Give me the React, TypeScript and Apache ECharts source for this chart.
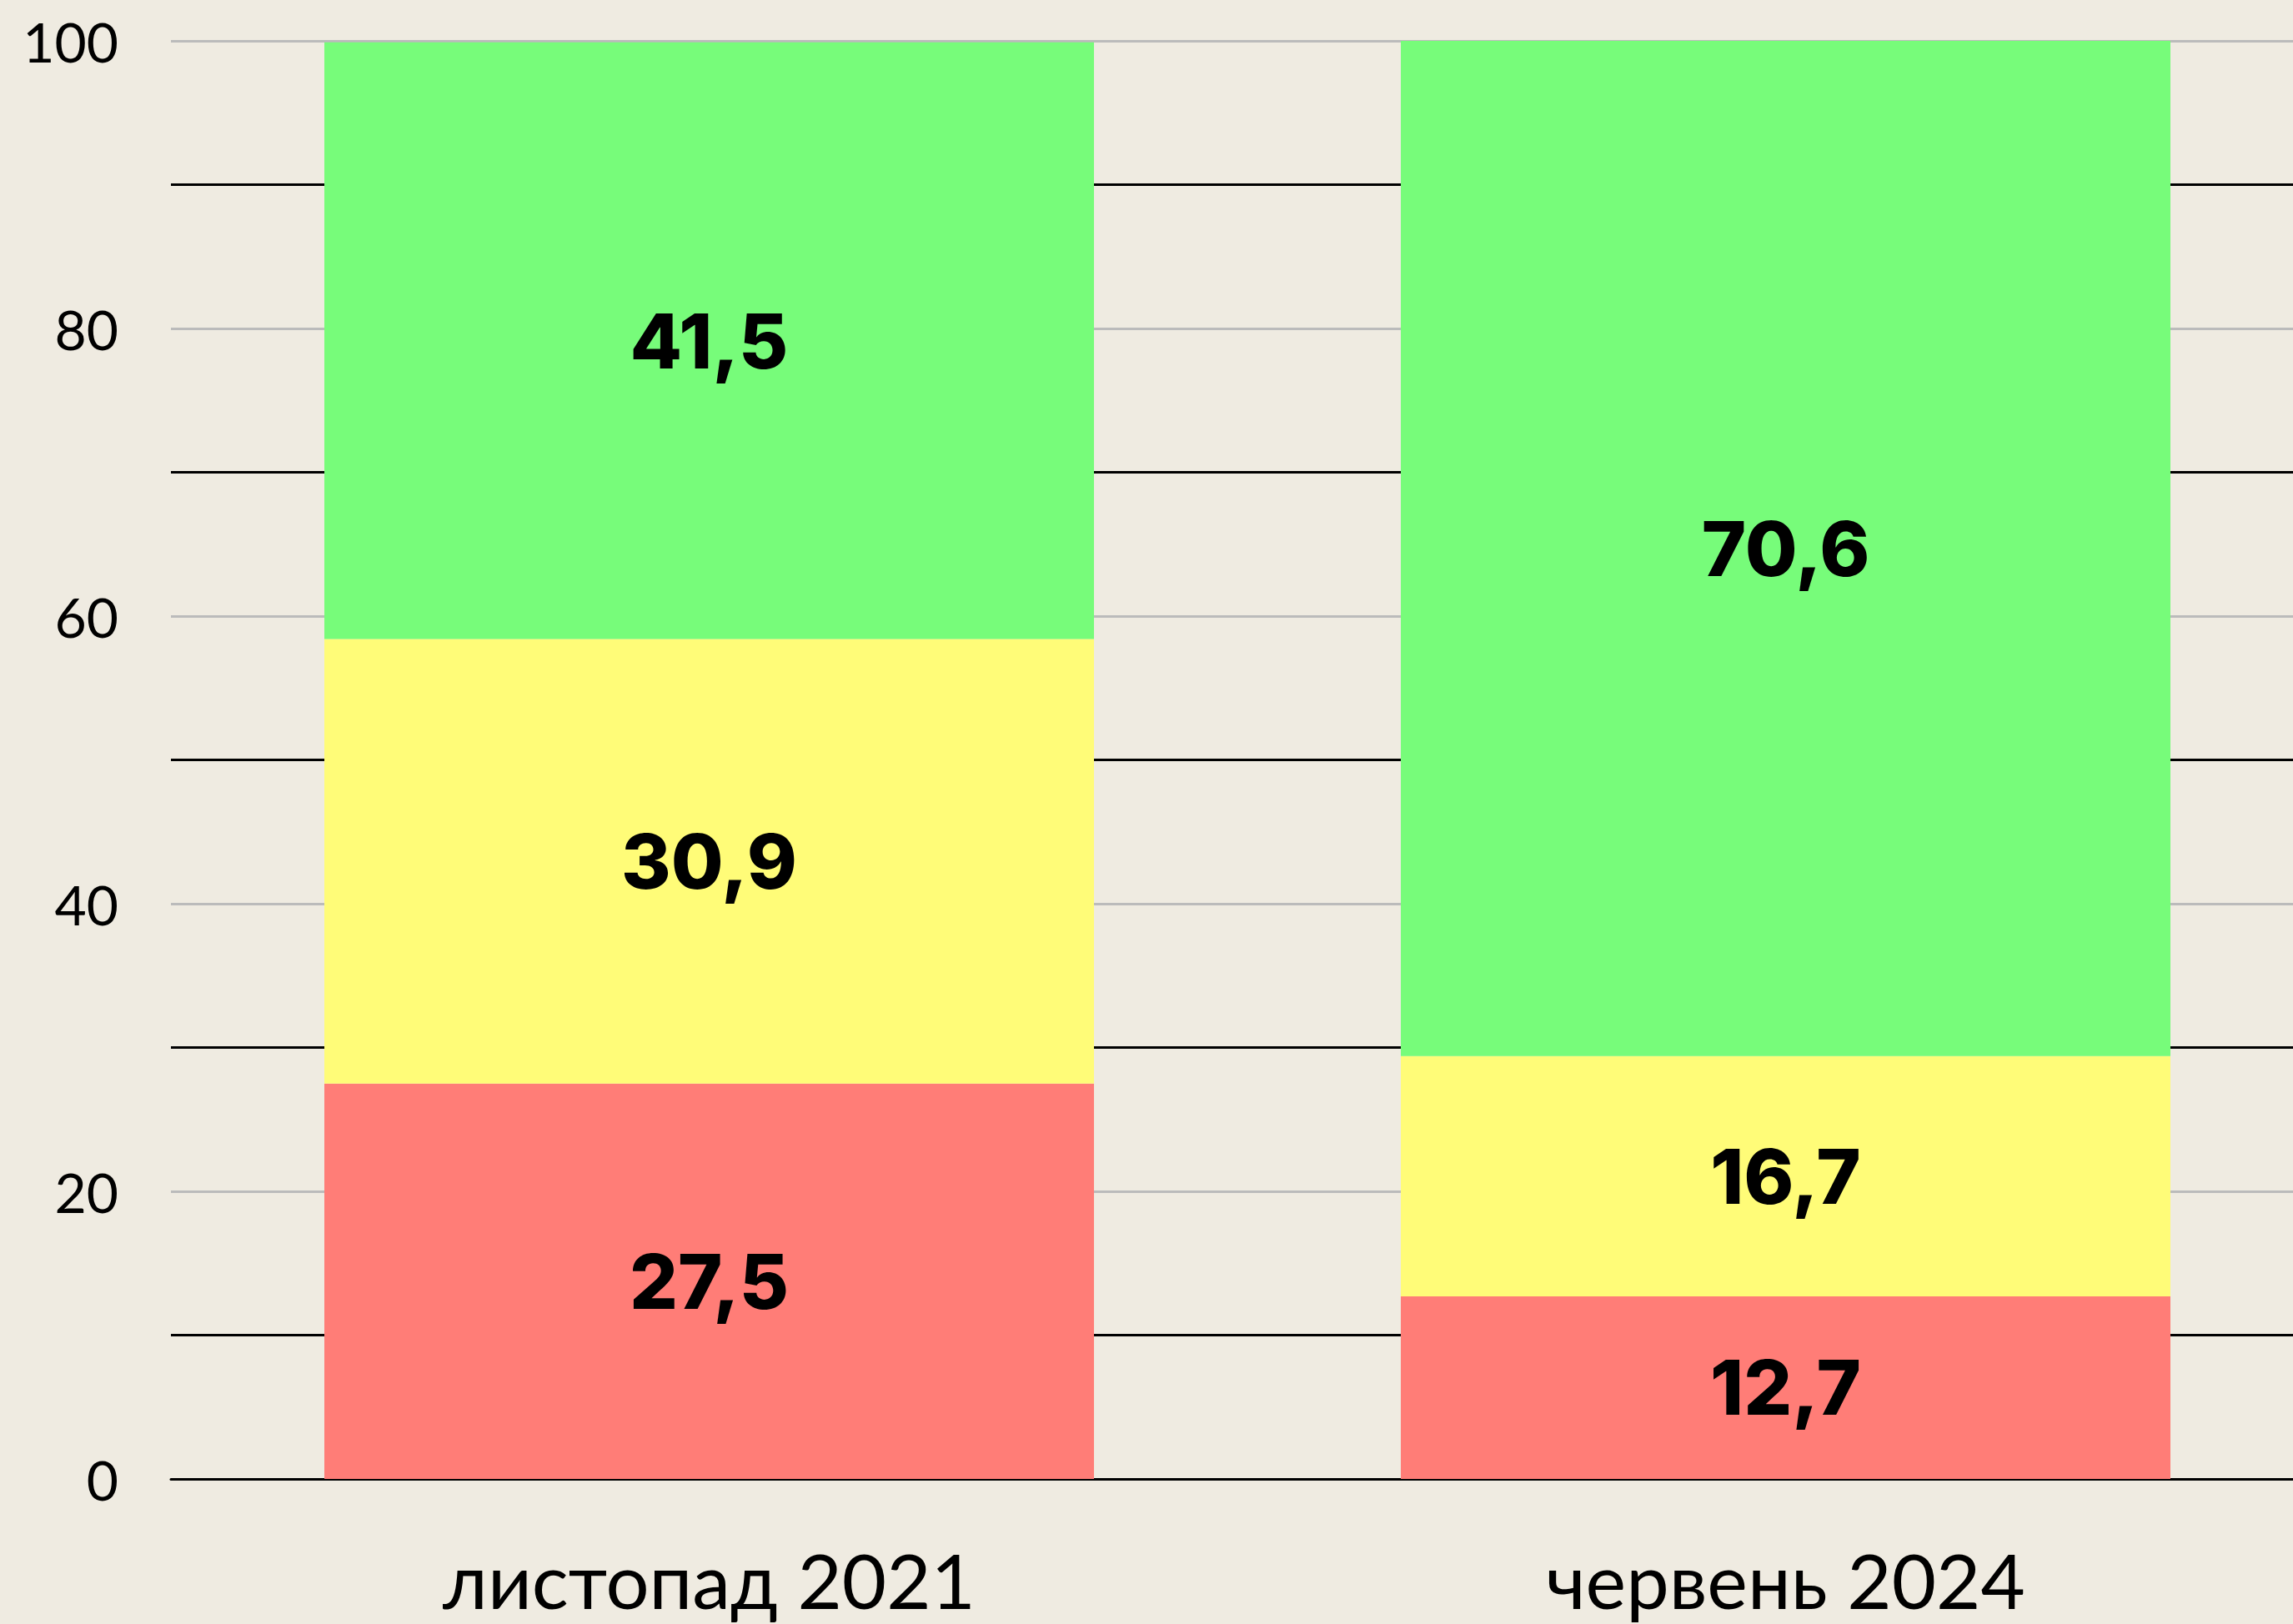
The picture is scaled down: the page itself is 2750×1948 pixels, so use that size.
import React, { useEffect, useRef } from "react";
import * as echarts from "echarts";

const categories = ["листопад 2021", "червень 2024"];
const redValues = [27.5, 12.7];
const yellowValues = [30.9, 16.7];
const greenValues = [41.5, 70.6];
const seriesNames = ["red", "yellow", "green"];
const seriesColors = ["#FF7D77", "#FFFC78", "#77FC7A"];
const yTickLabels = [0, 20, 40, 60, 80, 100];

export default function App() {
  const ref = useRef<HTMLDivElement>(null);
  useEffect(() => {
    document.body.style.margin = "0";
    document.body.style.overflow = "hidden";
    const chart = echarts.init(ref.current!, null, { renderer: "svg" });
    const data = [redValues, yellowValues, greenValues];
    const labelStyle = {
      show: true,
      position: "inside",
      color: "#000",
      fontFamily: "Inter",
      fontWeight: 800,
      fontSize: 91,
      formatter: (p: any) => String(p.value).replace(".", ","),
    };
    chart.setOption({
      animation: false,
      backgroundColor: "#EFEBE1",
      grid: { left: 205, right: 0, top: 49, bottom: 1948 - 1774, containLabel: false },
      xAxis: {
        type: "category",
        data: categories,
        axisLine: { show: true, lineStyle: { color: "#000", width: 3 } },
        axisTick: { show: false },
        axisLabel: {
          color: "#000",
          fontFamily: "Lato",
          fontSize: 92,
          lineHeight: 80,
          margin: 80,
        },
      },
      yAxis: {
        type: "value",
        min: 0,
        max: 100,
        interval: 10,
        axisLine: { show: false },
        axisTick: { show: false },
        axisLabel: {
          color: "#000",
          fontFamily: "Lato",
          fontSize: 66,
          margin: 63,
          formatter: (v: number) => (yTickLabels.includes(v) ? String(v) : ""),
        },
        splitLine: {
          show: true,
          lineStyle: { color: ["#BBBBBB", "#000000"], width: 3 },
        },
      },
      series: data.map((vals, i) => ({
        name: seriesNames[i],
        type: "bar",
        stack: "total",
        barWidth: 923,
        data: vals,
        itemStyle: { color: seriesColors[i] },
        label: labelStyle,
      })),
    });
    return () => chart.dispose();
  }, []);
  return (
    <div style={{ position: "absolute", left: 0, top: 0, width: 2750, height: 1948, overflow: "hidden", background: "#EFEBE1" }}>
      <div ref={ref} style={{ position: "absolute", left: 0, top: 0, width: 2787, height: 1948 }} />
    </div>
  );
}
